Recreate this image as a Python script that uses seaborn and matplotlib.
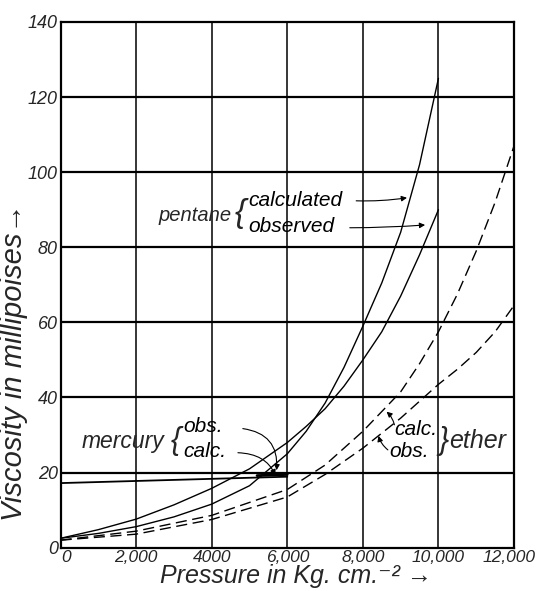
import numpy as np
import pandas as pd
import matplotlib
matplotlib.use("Agg")
import matplotlib.pyplot as plt
import matplotlib.transforms as mtrans
import seaborn as sns

# ---- data ----
pent_calc_p = [0, 1000, 2000, 3000, 4000, 5000, 6000, 6500, 7000, 7500, 8000, 8500, 9000, 9500, 10000]
pent_calc_v = [2.5, 3.8, 5.6, 8.2, 11.6, 16.5, 25.0, 31.0, 38.5, 48.0, 59.0, 70.5, 84.0, 102.0, 125.0]

pent_obs_p = [0, 1000, 2000, 3000, 4000, 5000, 6000, 6500, 7000, 7500, 8000, 8500, 9000, 9500, 10000]
pent_obs_v = [2.5, 4.8, 7.6, 11.4, 15.8, 21.0, 28.0, 32.3, 37.0, 43.0, 50.0, 57.5, 67.0, 78.0, 90.0]

eth_calc_p = [0, 2000, 4000, 6000, 7000, 8000, 9000, 9500, 10000, 10500, 11000, 11500, 12000]
eth_calc_v = [2.0, 4.4, 8.6, 15.5, 22.0, 31.0, 41.5, 49.0, 57.5, 67.5, 79.0, 92.0, 107.0]

eth_obs_p = [0, 2000, 4000, 6000, 7000, 8000, 9000, 10000, 10500, 11000, 11500, 12000]
eth_obs_v = [2.0, 3.6, 7.5, 13.5, 19.5, 26.5, 34.5, 43.5, 47.5, 52.0, 57.5, 64.5]

merc_obs_p = [0, 6000]
merc_obs_v = [17.2, 18.9]
merc_calc_p = [5200, 6000]
merc_calc_v = [19.2, 19.5]

x_ticks = [0, 2000, 4000, 6000, 8000, 10000, 12000]
x_tick_labels = ["0", "2,000", "4000", "6,000", "8,000", "10,000", "12,000"]
y_ticks = [0, 20, 40, 60, 80, 100, 120, 140]
y_tick_labels = ["0", "20", "40", "60", "80", "100", "120", "140"]

# ---- plotting ----
sns.set_style("white")
plt.rcParams['font.family'] = ['Liberation Sans', 'DejaVu Sans']

fig = plt.figure(figsize=(5.36, 5.91), dpi=100)
ax = fig.add_axes([0.113, 0.0733, 0.846, 0.8895])

def frame(p, v, name):
    return pd.DataFrame({"p": p, "v": v, "s": name})

solid = dict(color="black", lw=1.0, sort=False, legend=False)
sns.lineplot(data=frame(pent_calc_p, pent_calc_v, "pc"), x="p", y="v", ax=ax, **solid)
sns.lineplot(data=frame(pent_obs_p, pent_obs_v, "po"), x="p", y="v", ax=ax, **solid)
sns.lineplot(data=frame(merc_obs_p, merc_obs_v, "mo"), x="p", y="v", ax=ax, color="black", lw=1.3, legend=False)
sns.lineplot(data=frame(merc_calc_p, merc_calc_v, "mc"), x="p", y="v", ax=ax, color="black", lw=2.0, legend=False)

dashed = dict(color="black", lw=1.0, sort=False, legend=False)
sns.lineplot(data=frame(eth_calc_p, eth_calc_v, "ec"), x="p", y="v", ax=ax, **dashed)
sns.lineplot(data=frame(eth_obs_p, eth_obs_v, "eo"), x="p", y="v", ax=ax, **dashed)
for ln in ax.lines[-2:]:
    ln.set_dashes((8, 4))

ax.set_xlim(0, 12000)
ax.set_ylim(0, 140)
ax.set_xticks(x_ticks)
ax.set_yticks(y_ticks)
ax.set_xticklabels(x_tick_labels, style="italic", fontsize=12.5)
ax.set_yticklabels(y_tick_labels, style="italic", fontsize=13)
ax.tick_params(length=0, pad=2)
last = ax.get_xticklabels()[-1]
last.set_transform(last.get_transform() + mtrans.ScaledTranslation(-5 / 100, 0, fig.dpi_scale_trans))
first = ax.get_xticklabels()[0]
first.set_transform(first.get_transform() + mtrans.ScaledTranslation(5 / 100, 0, fig.dpi_scale_trans))

for y in y_ticks[1:-1]:
    ax.axhline(y, color="black", lw=1.6, zorder=0)
for x in x_ticks[1:-1]:
    ax.axvline(x, color="black", lw=1.1, zorder=0)
for s in ax.spines.values():
    s.set_color("black")
    s.set_linewidth(1.6)

ax.set_xlabel("Pressure in Kg. cm.\u207b\u00b2 \u2192", style="italic", fontsize=18)
ax.xaxis.set_label_coords(0.52, -0.031)
ax.set_ylabel("Viscosity in millipoises\u2192", style="italic", fontsize=21)
ax.yaxis.set_label_coords(-0.072, 0.353)

# ---- annotations ----
tk = dict(style="italic", fontsize=15, color="black")
ax.text(2600, 88.5, "pentane", ha="left", va="center", style="italic", fontsize=14.5)
ax.text(4620, 89.0, "{", ha="left", va="center", style="italic", fontsize=24)
ax.text(4980, 92.4, "calculated", ha="left", va="center", **tk)
ax.text(4980, 85.6, "observed", ha="left", va="center", **tk)
arr = dict(arrowstyle="-|>", color="black", lw=0.8, mutation_scale=8)
ax.annotate("", xy=(9240, 93.3), xytext=(7750, 92.4),
            arrowprops=dict(connectionstyle="arc3,rad=0.05", **arr))
ax.annotate("", xy=(9720, 86.0), xytext=(7580, 85.2),
            arrowprops=dict(connectionstyle="arc3,rad=0.02", **arr))

ax.text(560, 28.3, "mercury", ha="left", va="center", style="italic", fontsize=16.5)
ax.text(2920, 28.5, "{", ha="left", va="center", style="italic", fontsize=22)
ax.text(3260, 32.2, "obs.", ha="left", va="center", **tk)
ax.text(3240, 25.5, "calc.", ha="left", va="center", **tk)
ax.annotate("", xy=(5710, 19.9), xytext=(4750, 31.8),
            arrowprops=dict(connectionstyle="arc3,rad=-0.5", **arr))
ax.annotate("", xy=(5710, 18.6), xytext=(4620, 25.3),
            arrowprops=dict(connectionstyle="angle3,angleA=0,angleB=110", **arr))

ax.text(8840, 31.6, "calc.", ha="left", va="center", **tk)
ax.text(8700, 25.5, "obs.", ha="left", va="center", **tk)
ax.text(10000, 28.4, "}", ha="left", va="center", style="italic", fontsize=22)
ax.text(10290, 28.4, "ether", ha="left", va="center", style="italic", fontsize=18)
ax.annotate("", xy=(8570, 36.7), xytext=(8850, 32.0),
            arrowprops=dict(connectionstyle="arc3,rad=0.2", **arr))
ax.annotate("", xy=(8395, 30.5), xytext=(8720, 25.6),
            arrowprops=dict(connectionstyle="arc3,rad=-0.2", **arr))

fig.savefig("out.png", dpi=100)
